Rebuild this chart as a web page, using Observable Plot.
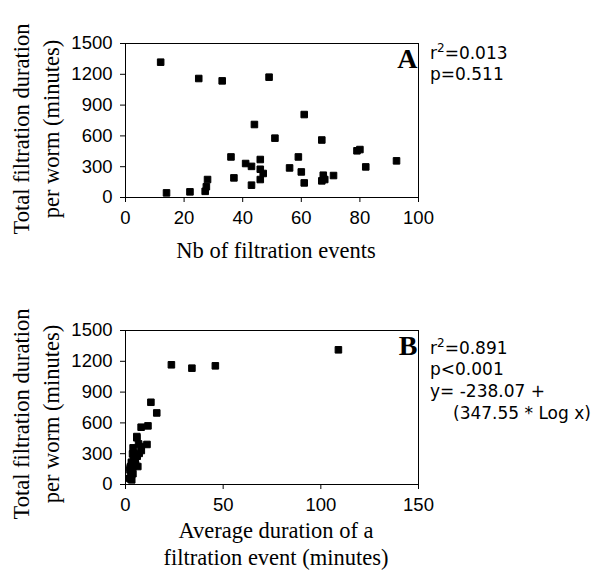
<!DOCTYPE html>
<html>
<head>
<meta charset="utf-8">
<script src="https://cdn.jsdelivr.net/npm/d3@7"></script>
<script src="https://cdn.jsdelivr.net/npm/@observablehq/plot@0.6"></script>
<style>
  html, body { margin: 0; padding: 0; background: #fff; }
  #wrap { position: relative; width: 613px; height: 570px; overflow: hidden; }
  #wrap > svg { position: absolute; left: 0; }
  #overlay { position: absolute; left: 0; top: 0; pointer-events: none; }
</style>
</head>
<body>
<div id="wrap"></div>
<script>
// ---- Panel A data: number of filtration events vs total filtration duration per worm (min)
const nbEvents = [12, 25, 33, 49, 61, 44, 51, 67, 79, 80, 92.5, 82, 36, 41, 43, 46, 46, 47, 46, 37, 43, 56, 59, 60, 61, 67.5, 67, 68, 71, 28, 27.6, 27.2, 22, 14];
const totalA   = [1318, 1159, 1136, 1172, 808, 711, 578, 560, 455, 467, 357, 298, 395, 331, 303, 370, 275, 234, 175, 191, 120, 288, 395, 249, 142, 217, 162, 175, 214, 175, 105, 60, 55, 45];

// ---- Panel B data: average duration of a filtration event (min) vs total duration (min)
const avgDuration = [109, 46, 34, 23.5, 13, 16, 11.5, 8, 5.8, 5.8, 3.9, 3.6, 11, 8.1, 7, 8, 6, 5, 3.8, 5.2, 2.8, 5.1, 6.7, 4.2, 2.3, 3.2, 2.4, 2.6, 3, 6.3, 3.8, 2.2, 2.5, 3.2];
const totalB      = [1312, 1156, 1133, 1166, 801, 697, 571, 558, 455, 467, 357, 298, 390, 331, 303, 370, 275, 234, 175, 191, 120, 288, 395, 249, 142, 217, 162, 175, 214, 175, 105, 60, 55, 45];

// ---- Ticks and texts
const yTicks  = [0, 300, 600, 900, 1200, 1500];
const xTicksA = [0, 20, 40, 60, 80, 100];
const xTicksB = [0, 50, 100, 150];
const yLabelLines = ["Total filtration duration", "per worm (minutes)"];
const xLabelA = ["Nb of filtration events"];
const xLabelB = ["Average duration of a", "filtration event (minutes)"];
const statsA = ["r²=0.013", "p=0.511"];
const statsB = ["r²=0.891", "p<0.001", "y= -238.07 +", "(347.55 * Log x)"];

const dataA = nbEvents.map((x, i) => ({x, y: totalA[i]}));
const dataB = avgDuration.map((x, i) => ({x, y: totalB[i]}));

function panel(data, xDomain, xTicks, letter, opts) {
  return Plot.plot({
    width: 613,
    height: 285,
    marginLeft: 125,
    marginRight: 195,
    marginTop: opts.marginTop,
    marginBottom: opts.marginBottom,
    style: {fontFamily: "'Liberation Sans', Arial, sans-serif", fontSize: "18.5px", color: "black", background: "white"},
    x: {domain: xDomain},
    y: {domain: [0, 1500]},
    marks: [
      Plot.frame({stroke: "black", strokeWidth: 1}),
      Plot.axisX({ticks: xTicks, tickSize: 5, tickPadding: 8, label: null, tickFormat: d => String(d)}),
      Plot.axisY({ticks: yTicks, tickSize: 5, tickPadding: 8, label: null, tickFormat: d => String(d)}),
      Plot.dot(data, {x: "x", y: "y", symbol: "square", r: 3.7, fill: "black", stroke: "black", strokeWidth: 1, strokeLinejoin: "round"}),
      Plot.text([letter], {frameAnchor: "top-right", text: d => d, dx: -1, dy: 5, fontFamily: "'Liberation Serif', 'Times New Roman', serif", fontWeight: "bold", fontSize: 28, lineAnchor: "top"})
    ]
  });
}

const wrap = document.getElementById("wrap");
const pA = panel(dataA, [0, 100], xTicksA, "A", {marginTop: 43, marginBottom: 88});
pA.style.top = "0px";
wrap.appendChild(pA);
const pB = panel(dataB, [0, 150], xTicksB, "B", {marginTop: 45, marginBottom: 86});
pB.style.top = "285px";
wrap.appendChild(pB);

// ---- Overlay with axis titles and statistics
const NS = "http://www.w3.org/2000/svg";
const ov = document.createElementNS(NS, "svg");
ov.setAttribute("id", "overlay");
ov.setAttribute("width", 613);
ov.setAttribute("height", 570);
wrap.appendChild(ov);

function addText(str, x, y, attrs) {
  const t = document.createElementNS(NS, "text");
  t.setAttribute("x", x);
  t.setAttribute("y", y);
  for (const k in attrs) t.setAttribute(k, attrs[k]);
  const m = str.match(/^r²(.*)$/);
  if (m) {
    t.appendChild(document.createTextNode("r"));
    const sup = document.createElementNS(NS, "tspan");
    sup.setAttribute("dy", "-6.5");
    sup.setAttribute("font-size", "12");
    sup.textContent = "2";
    t.appendChild(sup);
    const rest = document.createElementNS(NS, "tspan");
    rest.setAttribute("dy", "6.5");
    rest.textContent = m[1];
    t.appendChild(rest);
  } else {
    t.textContent = str;
  }
  ov.appendChild(t);
  return t;
}

const serif = {"font-family": "'Liberation Serif', 'Times New Roman', serif", "font-size": "22.5", "fill": "black"};
const sans = {"font-family": "'DejaVu Sans', Verdana, sans-serif", "font-size": "17", "fill": "black"};

// rotated y-axis titles
function yTitle(cy) {
  const xs = [29, 59];
  yLabelLines.forEach((s, i) => {
    addText(s, 0, 0, Object.assign({"text-anchor": "middle", "transform": `translate(${xs[i]},${cy}) rotate(-90)`}, serif));
  });
}
yTitle(129);
yTitle(414);

// x-axis titles
xLabelA.forEach((s, i) => addText(s, 276, 258, Object.assign({"text-anchor": "middle"}, serif)));
xLabelB.forEach((s, i) => addText(s, 276, 538 + i * 27, Object.assign({"text-anchor": "middle"}, serif)));

// statistics
statsA.forEach((s, i) => addText(s, 430, 58.5 + i * 21, sans));
statsB.forEach((s, i) => addText(s, i === 3 ? 453 : 430, 353.5 + i * 21.7, sans));
</script>
</body>
</html>
